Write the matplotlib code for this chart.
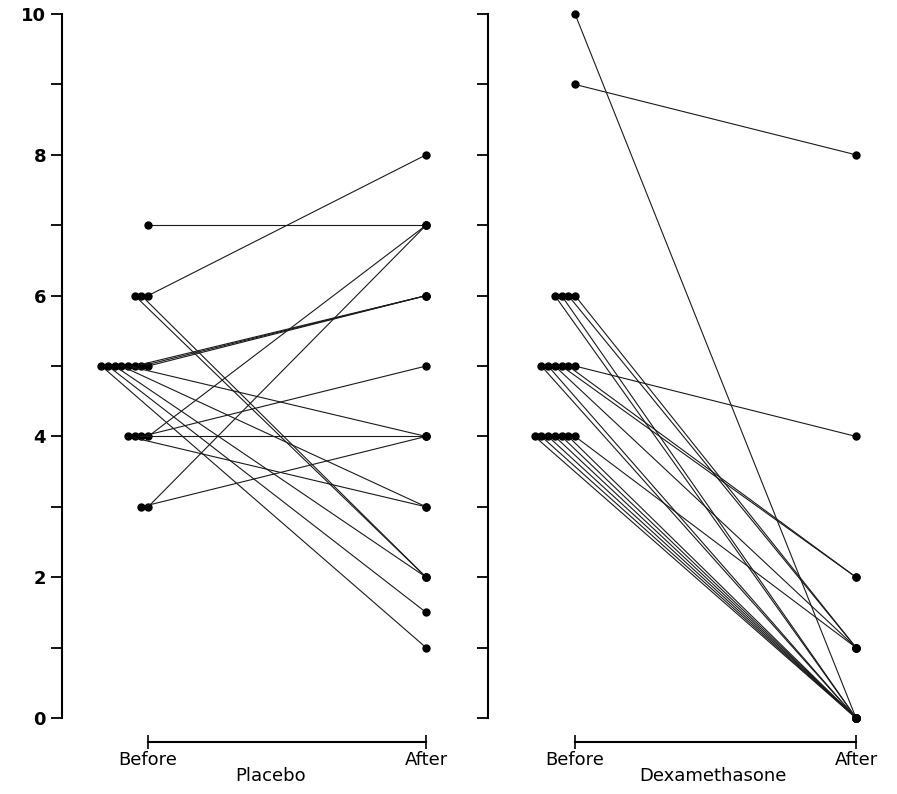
import matplotlib.pyplot as plt
import numpy as np

# one entry per patient: score before and after treatment
placebo_before = [7, 6, 6, 6, 5, 5, 5, 5, 5, 5, 5, 5, 4, 4, 4, 4, 3, 3]
placebo_after = [7, 8, 2, 2, 6, 6, 6, 4, 3, 2, 1.5, 1, 7, 5, 4, 3, 7, 4]

dexa_before = [10, 9, 6, 6, 6, 6, 5, 5, 5, 5, 5, 5, 4, 4, 4, 4, 4, 4, 4]
dexa_after = [0, 8, 1, 1, 0, 0, 4, 2, 2, 1, 0, 0, 1, 0, 0, 0, 0, 0, 0]

time_labels = ['Before', 'After']
group_names = ['Placebo', 'Dexamethasone']


def offsets(before, after, step):
    # equal "before" values are drawn side by side, going left
    order = sorted(range(len(before)), key=lambda i: (before[i], -after[i]))
    xs = np.zeros(len(before))
    count = {}
    for i in order:
        k = count.get(before[i], 0)
        xs[i] = -k * step
        count[before[i]] = k + 1
    return xs


def draw(ax, before, after, name, label_x, show_labels):
    xb = offsets(before, after, 0.024)
    for x0, b, a in zip(xb, before, after):
        ax.plot([x0, 1], [b, a], color='#1a1a1a', lw=0.8, marker='o', ms=5,
                mfc='k', mec='k', clip_on=False)

    ax.set_xlim(-0.31, 1.05)
    ax.set_ylim(0, 10)
    ax.spines['top'].set_visible(False)
    ax.spines['right'].set_visible(False)
    ax.spines['left'].set_linewidth(1.5)
    ax.spines['bottom'].set_position(('outward', 17))
    ax.spines['bottom'].set_bounds(0, 1)
    ax.spines['bottom'].set_linewidth(1.5)

    ax.set_xticks([0, 1])
    ax.set_xticklabels(time_labels, fontsize=13)
    ax.tick_params(axis='x', direction='inout', length=10, width=1.2, pad=2)

    ax.set_yticks(range(0, 11, 2))
    ax.set_yticks(range(1, 11, 2), minor=True)
    ax.tick_params(axis='y', which='both', direction='out', length=8, width=1.3)
    if show_labels:
        ax.set_yticklabels([str(v) for v in range(0, 11, 2)],
                           fontsize=13, fontweight='bold')
    else:
        ax.set_yticklabels([])

    ax.text(label_x, -0.083, name, transform=ax.get_xaxis_transform(),
            ha='center', va='center', fontsize=13)


fig = plt.figure(figsize=(8.97, 7.94), dpi=100)
ax1 = fig.add_axes([0.0691, 0.0957, 0.4214, 0.8866])
ax2 = fig.add_axes([0.544, 0.0957, 0.426, 0.8866])

draw(ax1, placebo_before, placebo_after, group_names[0], 0.44, True)
draw(ax2, dexa_before, dexa_after, group_names[1], 0.49, False)

fig.savefig('out.png', dpi=100)
